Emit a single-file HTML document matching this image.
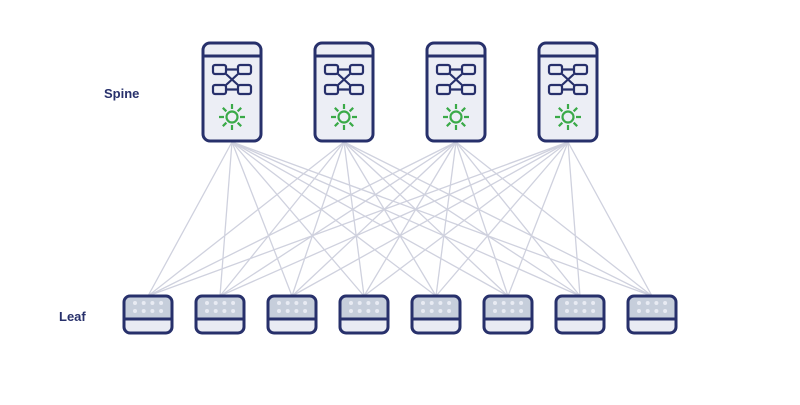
<!DOCTYPE html><html><head><style>body{margin:0;background:#fff}</style></head><body>
<svg width="800" height="400" xmlns="http://www.w3.org/2000/svg" font-family="Liberation Sans, sans-serif">
<defs>
<g id="sp">
<rect x="-29" y="43" width="58" height="98" rx="7" fill="#eceef5" stroke="#27306b" stroke-width="3"/>
<line x1="-29" y1="56" x2="29" y2="56" stroke="#27306b" stroke-width="3"/>
<g fill="none" stroke="#27306b" stroke-width="2.2">
<rect x="-19" y="65" width="13" height="9" rx="2"/><rect x="6" y="65" width="13" height="9" rx="2"/>
<rect x="-19" y="85" width="13" height="9" rx="2"/><rect x="6" y="85" width="13" height="9" rx="2"/>
<path d="M-6 69.5H6M-6 89.5H6M-6 74L6 85M6 74L-6 85"/></g>
<g stroke="#3aaa48" stroke-width="2.2" fill="none"><circle cx="0" cy="117" r="5.5"/>
<path d="M8 117H13M-8 117H-13M0 109V104M0 125V130M5.66 122.66L9.19 126.19M-5.66 122.66L-9.19 126.19M5.66 111.34L9.19 107.81M-5.66 111.34L-9.19 107.81"/></g>
</g>
<g id="lf">
<path d="M-18 296h36a6 6 0 0 1 6 6v17h-48v-17a6 6 0 0 1 6-6z" fill="#c6cedb"/>
<path d="M-24 319h48v9a5 5 0 0 1-5 5h-38a5 5 0 0 1-5-5z" fill="#e9ebf3"/>
<rect x="-24" y="296" width="48" height="37" rx="6" fill="none" stroke="#27306b" stroke-width="3"/>
<line x1="-24" y1="319" x2="24" y2="319" stroke="#27306b" stroke-width="3"/>
<g fill="#e8ebf3"><circle cx="-13" cy="303" r="2"/><circle cx="-4.3" cy="303" r="2"/><circle cx="4.4" cy="303" r="2"/><circle cx="13.1" cy="303" r="2"/>
<circle cx="-13" cy="311" r="2"/><circle cx="-4.3" cy="311" r="2"/><circle cx="4.4" cy="311" r="2"/><circle cx="13.1" cy="311" r="2"/></g>
</g>
</defs>
<g stroke="#cfd1de" stroke-width="1.3">
<path fill="none" d="M232 142L148 296M232 142L220 296M232 142L292 296M232 142L364 296M232 142L436 296M232 142L508 296M232 142L580 296M232 142L652 296
M344 142L148 296M344 142L220 296M344 142L292 296M344 142L364 296M344 142L436 296M344 142L508 296M344 142L580 296M344 142L652 296
M456 142L148 296M456 142L220 296M456 142L292 296M456 142L364 296M456 142L436 296M456 142L508 296M456 142L580 296M456 142L652 296
M568 142L148 296M568 142L220 296M568 142L292 296M568 142L364 296M568 142L436 296M568 142L508 296M568 142L580 296M568 142L652 296"/>
</g>
<text x="104" y="98" font-size="13" font-weight="bold" fill="#27306b">Spine</text>
<text x="59" y="321" font-size="13" font-weight="bold" fill="#27306b">Leaf</text>
<use href="#sp" x="232"/><use href="#sp" x="344"/><use href="#sp" x="456"/><use href="#sp" x="568"/>
<use href="#lf" x="148"/><use href="#lf" x="220"/><use href="#lf" x="292"/><use href="#lf" x="364"/>
<use href="#lf" x="436"/><use href="#lf" x="508"/><use href="#lf" x="580"/><use href="#lf" x="652"/>
</svg></body></html>
